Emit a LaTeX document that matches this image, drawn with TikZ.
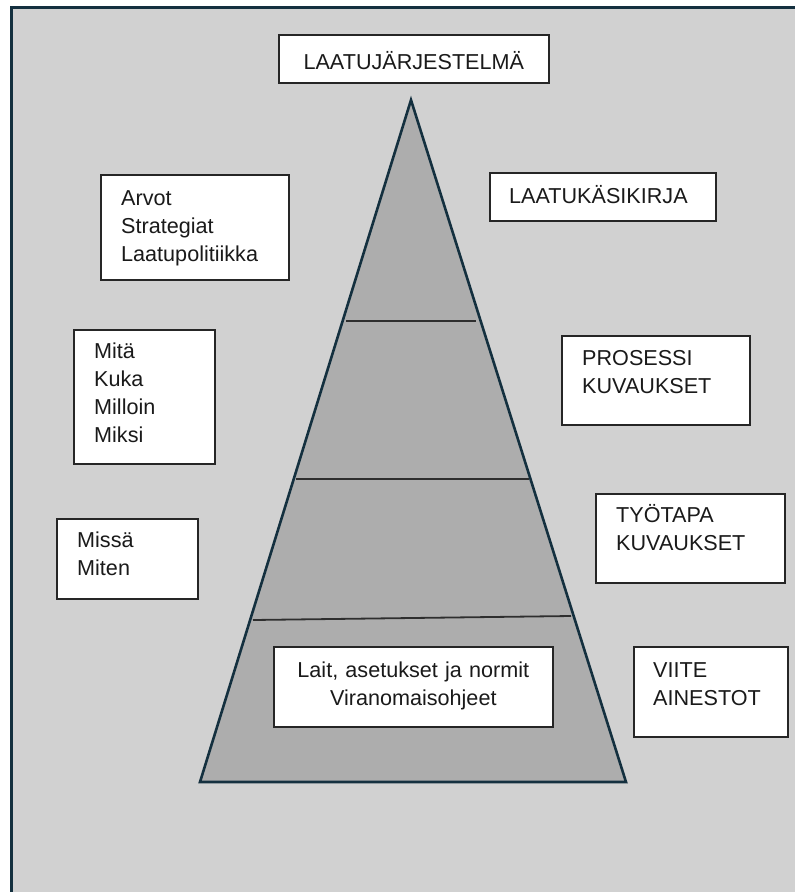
\documentclass[tikz,border=0pt]{standalone}
\usepackage{fontspec}
\setmainfont{Liberation Sans}
\definecolor{bggray}{HTML}{D1D1D1}
\definecolor{trigray}{HTML}{ADADAD}
\definecolor{navy}{HTML}{14303F}
\definecolor{boxline}{HTML}{262626}
\definecolor{divline}{HTML}{2E2E2E}
\definecolor{textc}{HTML}{1A1A1A}
\begin{document}
\begin{tikzpicture}[x=1pt,y=-1pt,
  frame/.style={draw=navy, fill=bggray, line width=3pt},
  pyramid/.style={draw=navy, fill=trigray, line width=2.6pt, line join=miter},
  divider/.style={draw=divline, line width=1.8pt},
  box/.style={draw=boxline, line width=1.6pt, fill=white, inner sep=0pt, anchor=north west},
  txt/.style={inner sep=0pt, text=textc, font=\fontsize{21.6}{28}\selectfont, anchor=base west, align=left, text width=180pt},
  ctxt/.style={inner sep=0pt, text=textc, font=\fontsize{21.6}{28}\selectfont, anchor=base, align=center, text width=270pt}]
\useasboundingbox (0,0) rectangle (795,892);
\clip (0,0) rectangle (795,892);
\fill[white] (0,0) rectangle (795,892);
\draw[frame] (11.5,7.5) rectangle (810,910);

% pyramid
\coordinate (apex) at (411,100);
\coordinate (bl) at (200,782);
\coordinate (br) at (626,782);
\draw[pyramid] (apex) -- (br) -- (bl) -- cycle;
\coordinate (d1l) at (346,321); \coordinate (d1r) at (476,321);
\coordinate (d2l) at (296,479); \coordinate (d2r) at (529,479);
\coordinate (d3l) at (253,620); \coordinate (d3r) at (571,616);
\draw[divider] (d1l) -- (d1r);
\draw[divider] (d2l) -- (d2r);
\draw[divider] (d3l) -- (d3r);

% boxes
\node[box, minimum width=270pt, minimum height=48pt] (top) at (278,34) {};
\node[box, minimum width=188pt, minimum height=105pt] (arvot) at (100,174) {};
\node[box, minimum width=226pt, minimum height=48pt] (laatuk) at (489,172) {};
\node[box, minimum width=141pt, minimum height=134pt] (mita) at (73,329) {};
\node[box, minimum width=188pt, minimum height=89pt] (prosessi) at (561,335) {};
\node[box, minimum width=141pt, minimum height=80pt] (missa) at (56,518) {};
\node[box, minimum width=189pt, minimum height=89pt] (tyotapa) at (595,493) {};
\node[box, minimum width=279pt, minimum height=80pt] (lait) at (273,646) {};
\node[box, minimum width=154pt, minimum height=90pt] (viite) at (633,646) {};

% texts
\node[ctxt] (toptxt) at ([shift={(0,35)}]top.north) {LAATUJÄRJESTELMÄ};
\node[txt] (arvottxt) at ([shift={(21,31)}]arvot.north west) {Arvot\\Strategiat\\Laatupolitiikka};
\node[txt] (laatuktxt) at ([shift={(20,31)}]laatuk.north west) {LAATUKÄSIKIRJA};
\node[txt] (mitatxt) at ([shift={(21,29)}]mita.north west) {Mitä\\Kuka\\Milloin\\Miksi};
\node[txt] (prosessitxt) at ([shift={(21,30)}]prosessi.north west) {PROSESSI\\KUVAUKSET};
\node[txt] (missatxt) at ([shift={(21,29)}]missa.north west) {Missä\\Miten};
\node[txt] (tyotapatxt) at ([shift={(21,29)}]tyotapa.north west) {TYÖTAPA\\KUVAUKSET};
\node[ctxt] (laittxt) at ([shift={(0,31)}]lait.north) {Lait, asetukset ja normit\\Viranomaisohjeet};
\node[txt] (viitetxt) at ([shift={(20,31)}]viite.north west) {VIITE\\AINESTOT};
\end{tikzpicture}
\end{document}
